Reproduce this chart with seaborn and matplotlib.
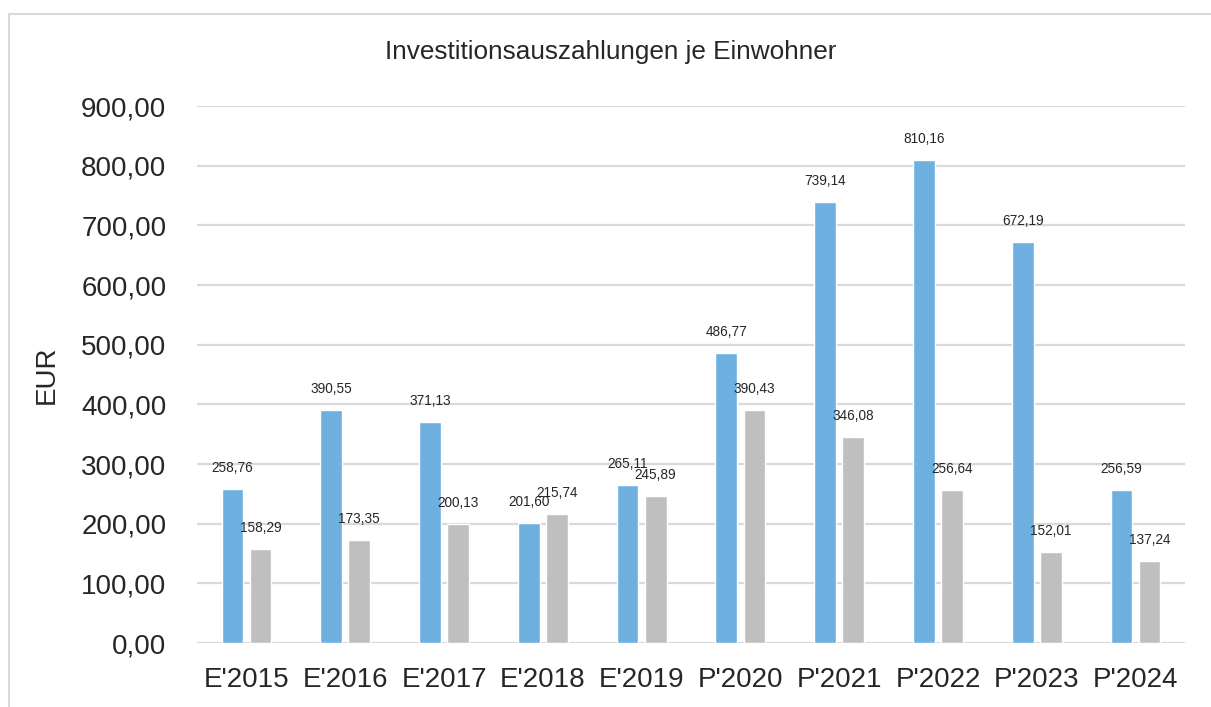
"""
Investitionsauszahlungen je Einwohner - grouped bars, Excel look
"""
import matplotlib
matplotlib.use('Agg')
import matplotlib.pyplot as plt
from matplotlib.patches import Rectangle
import pandas as pd
import seaborn as sns

# Data
years   = ["E'2015", "E'2016", "E'2017", "E'2018", "E'2019",
           "P'2020", "P'2021", "P'2022", "P'2023", "P'2024"]
blue_v  = [258.76, 390.55, 371.13, 201.60, 265.11,
           486.77, 739.14, 810.16, 672.19, 256.59]
grey_v  = [158.29, 173.35, 200.13, 215.74, 245.89,
           390.43, 346.08, 256.64, 152.01, 137.24]
series  = ['Reihe 1', 'Reihe 2']
yticks  = [0, 100, 200, 300, 400, 500, 600, 700, 800, 900]

BLUE = '#6EB0E0'
GREY = '#BFBFBF'
GRID = '#D9D9D9'
TXT  = '#262626'

df = pd.DataFrame({
    'Jahr':  years * 2,
    'Wert':  blue_v + grey_v,
    'Reihe': [series[0]] * len(years) + [series[1]] * len(years),
})

sns.set_style('white')
plt.rcParams['font.family'] = ['Liberation Sans', 'DejaVu Sans']

fig = plt.figure(figsize=(12.11, 7.07), dpi=100)
ax = fig.add_axes([0.1627, 0.0905, 0.8158, 0.7595])

sns.barplot(data=df, x='Jahr', y='Wert', hue='Reihe',
            palette=[BLUE, GREY], saturation=1, width=0.57, gap=0.23,
            legend=False, ax=ax, zorder=3)

def de(v):
    return f'{v:.2f}'.replace('.', ',')

for cont in ax.containers:
    ax.bar_label(cont, labels=[de(b.get_height()) for b in cont],
                 padding=10, fontsize=9.8, color=TXT)

ax.set_ylim(0, 900)
ax.set_yticks(yticks)
ax.set_yticklabels([de(t) for t in yticks])
ax.yaxis.grid(True, color=GRID, linewidth=1.6, zorder=0)
ax.set_axisbelow(True)
for s in ax.spines.values():
    s.set_visible(False)
ax.tick_params(axis='both', length=0, labelsize=20, colors=TXT)
ax.tick_params(axis='y', pad=22)
ax.tick_params(axis='x', pad=17)
ax.set_xlabel('')
ax.set_ylabel('EUR', fontsize=20, color=TXT)
ax.yaxis.set_label_coords(-0.139, 0.50)

fig.text(0.504, 0.926, 'Investitionsauszahlungen je Einwohner',
         ha='center', va='center', fontsize=18.8, color=TXT)

# chart frame (cropped at right/bottom)
fig.patches.append(Rectangle((9 / 1211, -0.1), 1.2, 1.1 - 14 / 707,
                             transform=fig.transFigure, fill=False,
                             edgecolor=GRID, linewidth=1.5))

fig.savefig('out.png', dpi=100)
plt.close(fig)
